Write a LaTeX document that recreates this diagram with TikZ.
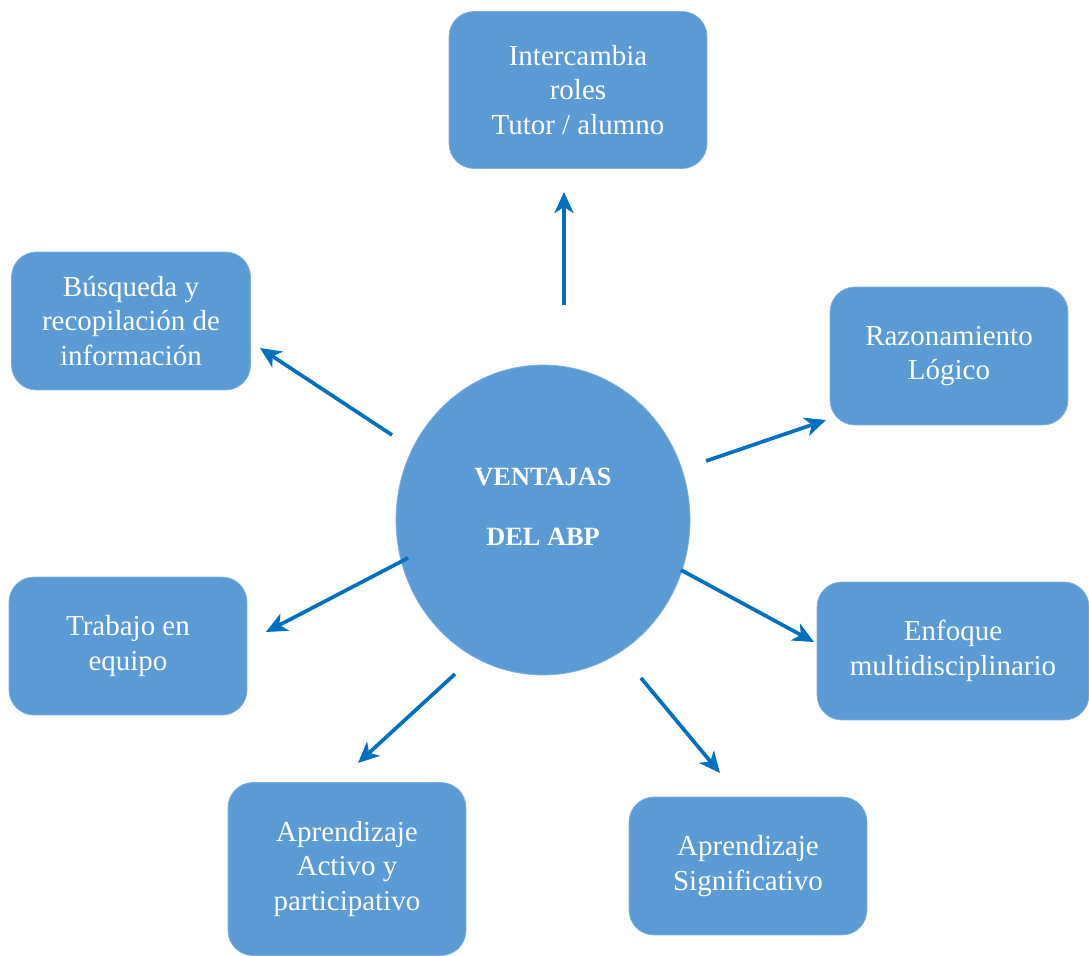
\documentclass[tikz,border=0pt]{standalone}
\usepackage{fontspec}
\setmainfont{Liberation Serif}
\usetikzlibrary{arrows.meta, shapes.geometric}
\definecolor{cajaAzul}{HTML}{5B9BD5}
\definecolor{flechaAzul}{HTML}{0070C0}

\tikzset{
  caja/.style={rectangle, rounded corners=0.5cm, fill=cajaAzul, draw=cajaAzul!80!white,
    line width=0.4pt, text=white, align=center, inner sep=0pt,
    font=\fontsize{16.5}{19.5}\selectfont},
  centro/.style={ellipse, fill=cajaAzul, draw=cajaAzul!80!white, inner sep=0pt,
    minimum width=5.88cm, minimum height=6.2cm},
  flecha/.style={flechaAzul, line width=2.1pt,
    -{Stealth[length=0.42cm, width=0.38cm, inset=0.12cm]}}
}

\begin{document}
\begin{tikzpicture}[x=0.02cm, y=-0.02cm]
    \useasboundingbox (0,0) rectangle (1089,956);

    % elipse central
    \node[centro] (abp) at (543,520) {};
    \node[text=white, align=center, font=\fontsize{15}{18}\selectfont\bfseries]
      (abptexto) at (543,507) {VENTAJAS\\[16.5pt]DEL ABP};

    % ventajas
    \node[caja, minimum width=5.16cm, minimum height=3.14cm] (roles) at (578,90)
      {Intercambia\\roles\\Tutor / alumno};
    \node[caja, minimum width=4.78cm, minimum height=2.76cm] (busqueda) at (131,321)
      {Búsqueda y\\recopilación de\\información};
    \node[caja, minimum width=4.76cm, minimum height=2.76cm] (razon) at (949,356)
      {Razonamiento\\Lógico};
    \node[caja, minimum width=4.76cm, minimum height=2.76cm] (equipo) at (128,646)
      {Trabajo en\\equipo};
    \node[caja, minimum width=5.44cm, minimum height=2.76cm] (enfoque) at (953,651)
      {Enfoque\\multidisciplinario};
    \node[caja, minimum width=4.76cm, minimum height=3.46cm] (activo) at (347,869)
      {Aprendizaje\\Activo y\\participativo};
    \node[caja, minimum width=4.76cm, minimum height=2.76cm] (signif) at (748,866)
      {Aprendizaje\\Significativo};

    % extremos de las flechas
    \coordinate (r1) at (564,305);  \coordinate (r2) at (564,192);
    \coordinate (b1) at (392,435);  \coordinate (b2) at (260,348);
    \coordinate (l1) at (706,461);  \coordinate (l2) at (826,420);
    \coordinate (t1) at (408,558);  \coordinate (t2) at (266,632);
    \coordinate (e1) at (681,570);  \coordinate (e2) at (814,642);
    \coordinate (a1) at (455,674);  \coordinate (a2) at (358,763);
    \coordinate (s1) at (641,678);  \coordinate (s2) at (720,773);

    % flechas
    \draw[flecha] (r1) -- (r2);
    \draw[flecha] (b1) -- (b2);
    \draw[flecha] (l1) -- (l2);
    \draw[flecha] (t1) -- (t2);
    \draw[flecha] (e1) -- (e2);
    \draw[flecha] (a1) -- (a2);
    \draw[flecha] (s1) -- (s2);
  \end{tikzpicture}
\end{document}
